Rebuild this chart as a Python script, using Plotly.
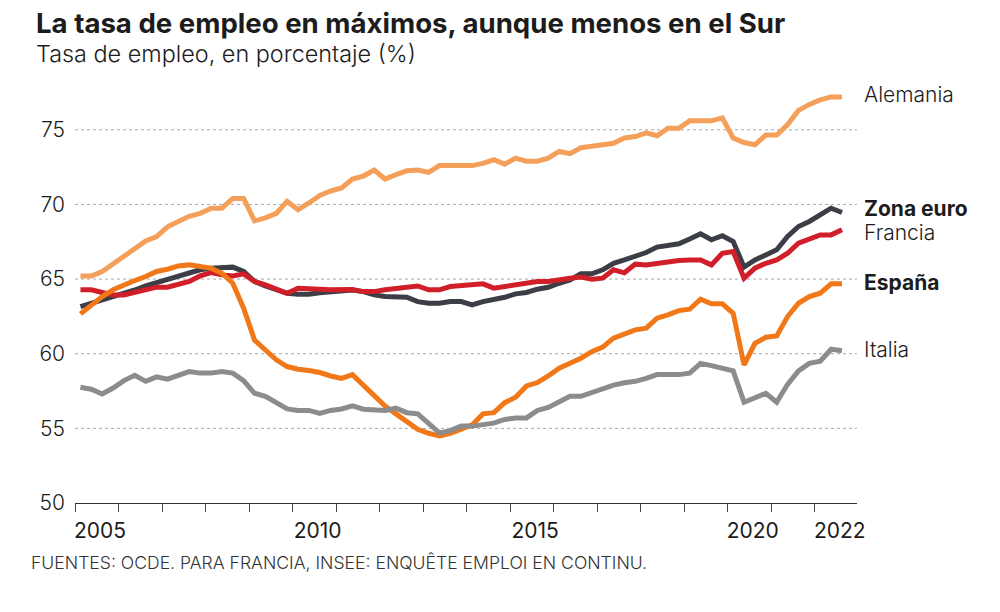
import plotly.graph_objects as go

# Quarterly data 2005Q1 .. 2022Q3
years = list(range(2005, 2023))
quarters = [(y, q) for y in years for q in range(1, 5)][:71]
x_pos = [y + (q - 0.5) / 4 for (y, q) in quarters]

alemania = [65.2, 65.2, 65.5, 66.0, 66.5, 67.1, 67.55, 67.85, 68.5, 68.85, 69.2, 69.4, 69.75, 69.75, 70.4, 70.4,
            68.9, 69.1, 69.4, 70.2, 69.65, 70.1, 70.6, 70.9, 71.1, 71.7, 71.9, 72.3, 71.7, 72.0, 72.25, 72.3,
            72.15, 72.6, 72.6, 72.6, 72.6, 72.75, 73.0, 72.7, 73.1, 72.9, 72.9, 73.1, 73.55, 73.4, 73.8, 73.9,
            74.0, 74.1, 74.45, 74.55, 74.8, 74.6, 75.1, 75.1, 75.6, 75.6, 75.6, 75.8, 74.45, 74.15, 74.0, 74.65,
            74.65, 75.35, 76.3, 76.7, 77.0, 77.2, 77.2]

zona_euro = [63.16, 63.38, 63.6, 63.78, 64.01, 64.27, 64.54, 64.76, 64.95, 65.21, 65.44, 65.62, 65.73, 65.8, 65.8, 65.51,
             64.84, 64.54, 64.32, 64.05, 63.98, 63.98, 64.09, 64.16, 64.23, 64.27, 64.16, 63.94, 63.83, 63.78, 63.78, 63.49,
             63.38, 63.38, 63.49, 63.49, 63.27, 63.49, 63.6, 63.78, 64.01, 64.1, 64.32, 64.45, 64.72, 64.95, 65.35, 65.35,
             65.62, 66.06, 66.28, 66.55, 66.78, 67.14, 67.25, 67.36, 67.68, 68.03, 67.63, 67.9, 67.52, 65.8, 66.28, 66.62,
             66.96, 67.85, 68.52, 68.86, 69.3, 69.75, 69.46]

francia = [64.28, 64.28, 64.1, 63.94, 63.94, 64.1, 64.28, 64.46, 64.46, 64.61, 64.84, 65.21, 65.44, 65.28, 65.21, 65.35,
           64.84, 64.61, 64.32, 64.05, 64.39, 64.39, 64.32, 64.28, 64.28, 64.3, 64.16, 64.16, 64.28, 64.39, 64.45, 64.54,
           64.28, 64.28, 64.5, 64.54, 64.61, 64.68, 64.39, 64.5, 64.61, 64.68, 64.84, 64.84, 64.99, 65.06, 65.13, 64.99,
           65.06, 65.62, 65.42, 66.0, 65.95, 66.06, 66.17, 66.24, 66.28, 66.28, 65.95, 66.73, 66.84, 65.06, 65.73, 66.06,
           66.28, 66.73, 67.4, 67.67, 67.96, 67.96, 68.3]

espana = [62.67, 63.27, 63.83, 64.28, 64.61, 64.9, 65.17, 65.51, 65.66, 65.88, 65.95, 65.88, 65.73, 65.39, 64.72, 63.05,
          60.92, 60.25, 59.59, 59.14, 58.96, 58.87, 58.74, 58.51, 58.35, 58.6, 57.9, 57.13, 56.5, 55.97, 55.46, 54.94,
          54.67, 54.49, 54.67, 54.94, 55.23, 55.97, 56.05, 56.72, 57.08, 57.84, 58.07, 58.51, 59.03, 59.36, 59.7, 60.14,
          60.44, 61.04, 61.33, 61.6, 61.71, 62.38, 62.6, 62.89, 62.98, 63.65, 63.34, 63.34, 62.71, 59.25, 60.7, 61.1,
          61.19, 62.49, 63.38, 63.83, 64.05, 64.68, 64.68]

italia = [57.75, 57.62, 57.3, 57.7, 58.2, 58.55, 58.15, 58.45, 58.3, 58.55, 58.8, 58.7, 58.7, 58.8, 58.7, 58.2,
          57.35, 57.15, 56.7, 56.3, 56.2, 56.2, 56.0, 56.2, 56.3, 56.5, 56.28, 56.2, 56.2, 56.35, 56.05, 55.97,
          55.35, 54.7, 54.85, 55.15, 55.15, 55.25, 55.35, 55.6, 55.7, 55.7, 56.2, 56.4, 56.75, 57.15, 57.15, 57.4,
          57.7, 57.9, 58.05, 58.15, 58.35, 58.6, 58.6, 58.6, 58.7, 59.35, 59.2, 59.05, 58.85, 56.75, 57.05, 57.35,
          56.75, 57.95, 58.85, 59.35, 59.5, 60.3, 60.2]

series_names = ["Alemania", "Zona euro", "Francia", "España", "Italia"]
series_values = [alemania, zona_euro, francia, espana, italia]
series_colors = ["#f5a05a", "#3b3e46", "#d11f2a", "#f07818", "#8c8c8c"]

label_names = ["Alemania", "Zona euro", "Francia", "España", "Italia"]
label_y = [77.35, 69.7, 68.1, 64.8, 60.3]
label_bold = [False, True, False, True, False]

y_ticks = [50, 55, 60, 65, 70, 75]
x_tick_years = list(range(2005, 2023))
x_tick_labels = ["2005" if y == 2005 else "2010" if y == 2010 else "2015" if y == 2015 else
                 "2020" if y == 2020 else "2022" if y == 2022 else "" for y in x_tick_years]

title = "La tasa de empleo en máximos, aunque menos en el Sur"
subtitle = "Tasa de empleo, en porcentaje (%)"
source = "FUENTES: OCDE. PARA FRANCIA, INSEE: ENQUÊTE EMPLOI EN CONTINU."

FONT = "Inter"
TXT = "#1c1c1c"

fig = go.Figure()
for name, vals, col in zip(series_names, series_values, series_colors):
    fig.add_trace(go.Scatter(x=x_pos, y=vals, mode="lines", name=name,
                             line=dict(color=col, width=5, shape="linear"),
                             hoverinfo="skip"))

# gridlines (dotted)
for v in y_ticks[1:]:
    fig.add_shape(type="line", xref="paper", yref="y", x0=0, x1=1, y0=v, y1=v,
                  line=dict(color="#a8a8a8", width=1, dash="dot"), layer="below")

annotations = []
for name, yv, b in zip(label_names, label_y, label_bold):
    annotations.append(dict(xref="paper", yref="y", x=1.007, y=yv, xanchor="left", yanchor="middle",
                            text=f"<b>{name}</b>" if b else name, showarrow=False,
                            font=dict(family=FONT, size=21, color=TXT,
                                      weight=700 if b else 300)))

annotations.append(dict(xref="paper", yref="paper", x=-0.0525, y=1.148, xanchor="left", yanchor="middle",
                        text=f"<b>{title}</b>", showarrow=False,
                        font=dict(family=FONT, size=27.6, color=TXT, weight=700)))
annotations.append(dict(xref="paper", yref="paper", x=-0.0525, y=1.075, xanchor="left", yanchor="middle",
                        text=subtitle, showarrow=False,
                        font=dict(family=FONT, size=23.4, color=TXT, weight=300)))
annotations.append(dict(xref="paper", yref="paper", x=-0.0585, y=-0.1435, xanchor="left", yanchor="middle",
                        text=source, showarrow=False,
                        font=dict(family=FONT, size=17.6, color="#333333", weight=300)))

fig.update_layout(
    width=1000, height=612,
    margin=dict(l=75, r=143, t=85, b=109),
    plot_bgcolor="white", paper_bgcolor="white",
    showlegend=False,
    annotations=annotations,
    xaxis=dict(range=[2005, 2022.97], tickvals=x_tick_years, ticktext=x_tick_labels,
               ticks="outside", ticklen=8, tickcolor="#444444", tickwidth=1,
               showline=True, linecolor="#333333", linewidth=1,
               showgrid=False, zeroline=False, ticklabelshift=25, ticklabelstandoff=1,
               tickfont=dict(family=FONT, size=21, color=TXT)),
    yaxis=dict(range=[50, 78], tickvals=y_ticks, ticktext=[str(v) for v in y_ticks],
               showgrid=False, zeroline=False, showline=False, ticks="",
               ticklabelstandoff=9,
               tickfont=dict(family=FONT, size=21, color=TXT, weight=300)),
)

fig.write_html("out.html")
